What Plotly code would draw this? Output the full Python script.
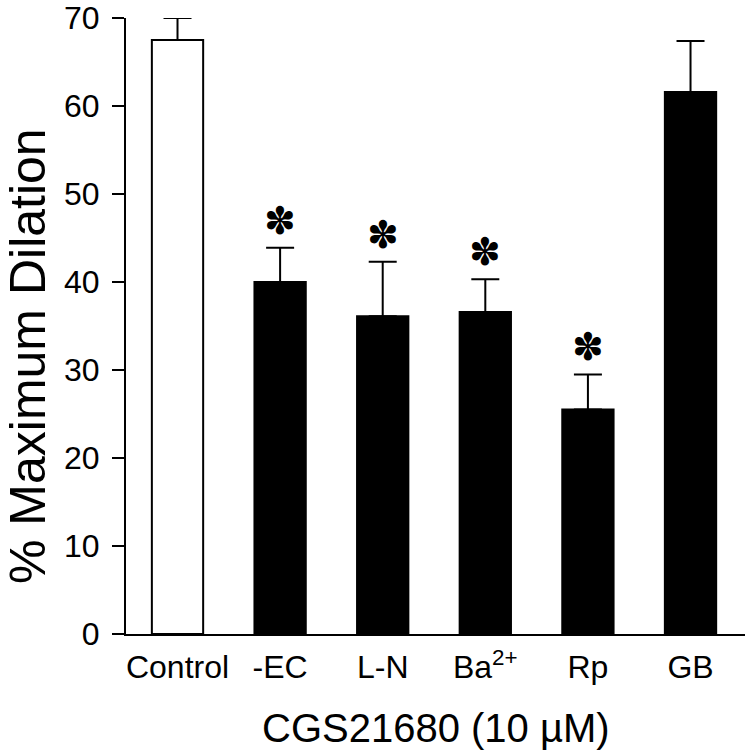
import plotly.graph_objects as go

categories = ["Control", "-EC", "L-N", "Ba<sup>2+</sup>", "Rp", "GB"]
means = [67.5, 40.0, 36.1, 36.6, 25.5, 61.6]
errors = [2.5, 3.9, 6.2, 3.7, 4.0, 5.8]
significant = [False, True, True, True, True, False]
bar_colors = ["white", "black", "black", "black", "black", "black"]
y_ticks = [0, 10, 20, 30, 40, 50, 60, 70]

FONT = "Liberation Sans, Arial, Helvetica, sans-serif"

fig = go.Figure()
fig.add_trace(go.Bar(
    x=categories, y=means,
    width=0.5,
    marker=dict(color=bar_colors, line=dict(color="black", width=2)),
    error_y=dict(type="data", array=errors, symmetric=False,
                 arrayminus=[0] * len(errors),
                 color="black", thickness=2, width=14),
))

annotations = []
for c, m, e, s in zip(categories, means, errors, significant):
    if s:
        annotations.append(dict(
            x=c, y=m + e, xref="x", yref="y",
            text="✽", showarrow=False,
            font=dict(family="DejaVu Sans", size=38, color="black"),
            xanchor="center", yanchor="middle", yshift=27,
        ))

annotations.append(dict(
    x=0, y=0.5, xref="paper", yref="paper",
    text="% Maximum Dilation", showarrow=False, textangle=-90,
    font=dict(family=FONT, size=50, color="black"),
    xanchor="center", yanchor="middle", xshift=-98, yshift=-30,
))
annotations.append(dict(
    x=0.5, y=0, xref="paper", yref="paper",
    text="CGS21680 (10 µM)", showarrow=False,
    font=dict(family=FONT, size=40, color="black"),
    xanchor="center", yanchor="middle", yshift=-94,
))

fig.update_layout(
    width=745, height=751,
    margin=dict(l=126, r=0, t=18, b=117, autoexpand=False),
    paper_bgcolor="white", plot_bgcolor="white",
    showlegend=False,
    font=dict(family=FONT, size=32, color="black"),
    annotations=annotations,
)
fig.update_xaxes(
    range=[-0.502, 5.531], automargin=False,
    showline=True, linecolor="black", linewidth=2,
    ticks="", showgrid=False, zeroline=False,
    tickfont=dict(family=FONT, size=32, color="black"),
    ticklabelstandoff=4,
)
fig.update_yaxes(
    range=[0, 70], tickvals=y_ticks, automargin=False,
    showline=True, linecolor="black", linewidth=2,
    ticks="outside", ticklen=12, tickwidth=2, tickcolor="black",
    showgrid=False, zeroline=False,
    tickfont=dict(family=FONT, size=32, color="black"),
    ticklabelstandoff=6,
)

fig.write_html(
    "out.html",
    config={"displayModeBar": False},
    post_script="document.body.style.margin='0';document.body.style.overflow='hidden';",
)
